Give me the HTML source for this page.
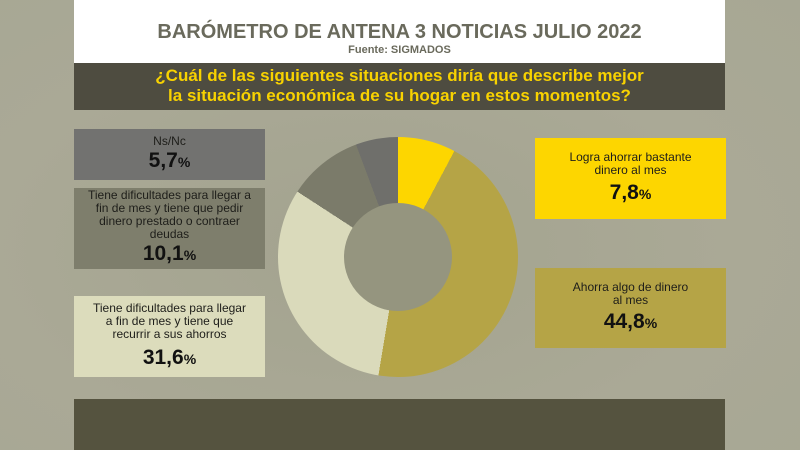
<!DOCTYPE html>
<html><head><meta charset="utf-8"><style>
body{margin:0;width:800px;height:450px;overflow:hidden;background:#a9a995;font-family:"Liberation Sans",sans-serif;position:relative}
.a{position:absolute}
.box{position:absolute;display:flex;flex-direction:column;align-items:center;justify-content:center;text-align:center;color:#1e1e1a;font-size:12px;line-height:13px}
.box b{font-size:21px;line-height:26px;font-weight:900;color:#111}
.box b small{font-size:14px}
</style></head><body>
<div class="a" style="left:0;top:0;width:800px;height:450px;background:radial-gradient(ellipse at 45% 55%,#a3a38f,#aaa996 60%,#a7a794)"></div>
<div class="a" style="left:74px;top:0;width:651px;height:63px;background:#fff"></div>
<div class="a" style="left:74px;top:21px;width:651px;text-align:center;font-weight:bold;font-size:20px;color:#6a6a5c">BARÓMETRO DE ANTENA 3 NOTICIAS JULIO 2022</div>
<div class="a" style="left:74px;top:44px;width:651px;text-align:center;font-weight:bold;font-size:11px;color:#6a6a5c">Fuente: SIGMADOS</div>
<div class="a" style="left:74px;top:63px;width:651px;height:47px;background:#4e4c40"></div>
<div class="a" style="left:74px;top:66px;width:651px;text-align:center;font-weight:bold;font-size:17px;line-height:20px;color:#f8d200">¿Cuál de las siguientes situaciones diría que describe mejor<br>la situación económica de su hogar en estos momentos?</div>
<div class="a" style="left:74px;top:399px;width:651px;height:51px;background:#55533f"></div>
<div class="a" style="left:278px;top:137px;width:240px;height:240px;border-radius:50%;background:conic-gradient(#fdd600 0deg 28deg,#b5a446 28deg 189.4deg,#dadabb 189.4deg 303deg,#7b7b6a 303deg 339.5deg,#6f6f6b 339.5deg 360deg)"></div>
<div class="a" style="left:344px;top:203px;width:108px;height:108px;border-radius:50%;background:#95957f"></div>
<div class="box" style="left:74px;top:129px;width:191px;height:51px;background:#727270"><span>Ns/Nc</span><b>5,7<small>%</small></b></div>
<div class="box" style="left:74px;top:188px;width:191px;height:81px;background:#7e7e6c"><span>Tiene dificultades para llegar a<br>fin de mes y tiene que pedir<br>dinero prestado o contraer<br>deudas</span><b>10,1<small>%</small></b></div>
<div class="box" style="left:74px;top:296px;width:191px;height:81px;background:#dcdcbc"><span>Tiene dificultades para llegar<br>a fin de mes y tiene que<br>recurrir a sus ahorros</span><b style="margin-top:4px">31,6<small>%</small></b></div>
<div class="box" style="left:535px;top:138px;width:191px;height:81px;background:#fdd600"><span>Logra ahorrar bastante<br>dinero al mes</span><b style="margin-top:3px">7,8<small>%</small></b></div>
<div class="box" style="left:535px;top:268px;width:191px;height:80px;background:#b5a446"><span>Ahorra algo de dinero<br>al mes</span><b style="margin-top:2px">44,8<small>%</small></b></div>
</body></html>
